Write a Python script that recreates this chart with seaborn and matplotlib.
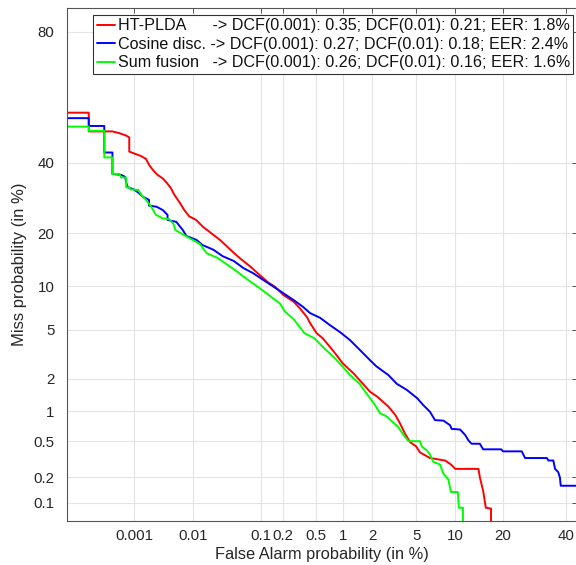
import pandas as pd
import seaborn as sns
import matplotlib.pyplot as plt
from statistics import NormalDist

# DET curve points, both axes in percent
plda_fa = [1e-5, 1.4e-4, 1.4e-4, 4.0e-4, 5.4e-4, 7.2e-4, 8.2e-4, 8.2e-4, 1.0e-3, 1.35e-3,
           1.64e-3, 1.85e-3, 2.15e-3, 2.6e-3, 3.2e-3, 3.8e-3, 4.4e-3, 5.0e-3, 6.0e-3, 7.3e-3,
           8.8e-3, 0.0113, 0.0144, 0.0168, 0.0264, 0.042, 0.0517, 0.072, 0.098, 0.125,
           0.156, 0.2, 0.27, 0.323, 0.39, 0.426, 0.51, 0.6, 0.8, 1.0,
           1.3, 1.6, 1.9, 2.23, 2.85, 3.3, 3.63, 4.01, 4.43, 5.0,
           5.37, 6.46, 8.42, 9.3, 10.0, 14.3, 14.6, 15.3, 15.9, 17.1, 17.1]
plda_miss = [56.6, 56.6, 50.4, 50.4, 49.8, 49.0, 48.4, 43.7, 43.1, 42.2,
             41.3, 39.4, 37.8, 36.2, 35.1, 33.6, 32.1, 30.2, 28.2, 25.9,
             24.2, 23.3, 21.6, 20.8, 18.5, 15.8, 14.7, 13.2, 11.7, 10.6,
             9.9, 8.77, 7.9, 7.1, 6.2, 5.6, 4.7, 4.3, 3.37, 2.7,
             2.22, 1.82, 1.53, 1.38, 1.11, 0.92, 0.76, 0.6, 0.49, 0.44,
             0.38, 0.33, 0.31, 0.28, 0.25, 0.25, 0.20, 0.14, 0.087, 0.085, 0.01]

cos_fa = [1e-5, 1.4e-4, 1.4e-4, 2.8e-4, 2.8e-4, 4.0e-4, 4.0e-4, 5.8e-4, 6.9e-4, 7.2e-4,
          7.7e-4, 9.8e-4, 1.2e-3, 1.45e-3, 1.85e-3, 1.85e-3, 2.5e-3, 3.2e-3, 3.85e-3, 3.85e-3,
          5.4e-3, 6.9e-3, 7.9e-3, 0.0115, 0.0142, 0.021, 0.029, 0.042, 0.058, 0.08,
          0.11, 0.15, 0.2, 0.27, 0.35, 0.426, 0.56, 0.72, 0.93, 1.19,
          1.51, 1.9, 2.2, 2.85, 3.4, 4.15, 5.1, 5.7, 6.46, 7.07,
          8.2, 9.16, 9.4, 10.8, 11.7, 12.3, 12.9, 14.6, 15.3, 19.6,
          20.1, 25.3, 26.3, 33.3, 33.8, 35.5, 36.1, 37.2, 37.8, 38.1, 60]
cos_miss = [54.8, 54.8, 52.2, 52.2, 43.4, 43.4, 36.5, 36.2, 35.6, 33.8,
            32.4, 31.8, 30.8, 29.6, 28.7, 27.1, 26.8, 25.9, 24.6, 23.3,
            22.8, 20.8, 19.4, 18.5, 17.4, 16.4, 15.1, 14.2, 12.9, 12.0,
            10.9, 9.9, 9.0, 8.1, 7.3, 6.6, 6.1, 5.41, 4.8, 4.17,
            3.48, 2.88, 2.55, 2.15, 1.8, 1.59, 1.33, 1.15, 0.99, 0.82,
            0.81, 0.73, 0.67, 0.66, 0.58, 0.51, 0.47, 0.47, 0.41, 0.41,
            0.39, 0.39, 0.33, 0.33, 0.31, 0.31, 0.25, 0.23, 0.20, 0.16, 0.16]

sum_fa = [1e-5, 1.4e-4, 1.4e-4, 2.8e-4, 2.8e-4, 4.0e-4, 4.0e-4, 5.4e-4, 5.8e-4, 7.2e-4,
          7.2e-4, 8.2e-4, 8.6e-4, 1.2e-3, 1.35e-3, 1.64e-3, 2.0e-3, 2.45e-3, 3.2e-3, 4.1e-3,
          4.8e-3, 5.2e-3, 7.9e-3, 0.013, 0.0165, 0.024, 0.034, 0.047, 0.066, 0.092,
          0.128, 0.18, 0.21, 0.27, 0.295, 0.366, 0.48, 0.62, 0.82, 1.0,
          1.19, 1.5, 1.75, 2.08, 2.38, 2.75, 3.22, 3.5, 3.9, 4.3,
          5.37, 5.55, 6.1, 6.46, 6.85, 7.72, 8.2, 8.9, 9.3, 10.4,
          10.6, 11.3, 11.3]
sum_miss = [52.0, 52.0, 50.6, 50.6, 41.8, 41.8, 36.5, 36.5, 35.4, 35.4,
            32.4, 32.4, 31.8, 31.6, 30.2, 28.7, 26.9, 24.6, 23.7, 23.5,
            22.4, 20.8, 19.3, 17.6, 15.7, 14.8, 13.5, 12.3, 11.0, 9.9,
            8.77, 7.7, 6.75, 5.96, 5.57, 4.7, 4.3, 3.6, 2.98, 2.53,
            2.15, 1.8, 1.48, 1.19, 0.96, 0.89, 0.76, 0.7, 0.58, 0.5,
            0.5, 0.44, 0.40, 0.36, 0.30, 0.28, 0.22, 0.19, 0.135, 0.135,
            0.087, 0.087, 0.01]

systems = ["HT-PLDA", "Cosine disc.", "Sum fusion"]
legend_labels = [
    "HT-PLDA      -> DCF(0.001): 0.35; DCF(0.01): 0.21; EER: 1.8%",
    "Cosine disc. -> DCF(0.001): 0.27; DCF(0.01): 0.18; EER: 2.4%",
    "Sum fusion   -> DCF(0.001): 0.26; DCF(0.01): 0.16; EER: 1.6%",
]
colors = ["#ff0000", "#0000ff", "#00ff00"]

x_ticks = [0.001, 0.01, 0.1, 0.2, 0.5, 1, 2, 5, 10, 20, 40]
y_ticks = [0.1, 0.2, 0.5, 1, 2, 5, 10, 20, 40, 80]

nd = NormalDist()


def probit(pct):
    return nd.inv_cdf(pct / 100.0)


frames = []
for name, fa, miss in zip(systems, [plda_fa, cos_fa, sum_fa], [plda_miss, cos_miss, sum_miss]):
    df = pd.DataFrame({"fa": fa, "miss": miss})
    df["system"] = name
    frames.append(df)
det = pd.concat(frames, ignore_index=True)
det["x"] = det["fa"].apply(probit)
det["y"] = det["miss"].apply(probit)

sns.set_style("white")
plt.rcParams["font.family"] = ["Liberation Sans", "DejaVu Sans"]

fig = plt.figure(figsize=(5.76, 5.65), dpi=100)
ax = fig.add_axes([67 / 576, 1 - 521 / 565, 510 / 576, 513 / 565])

for name, col, lab in zip(systems, colors, legend_labels):
    sub = det[det["system"] == name]
    sns.lineplot(data=sub, x="x", y="y", sort=False, estimator=None, color=col,
                 linewidth=1.4, label=lab, ax=ax)

ax.set_xlim(-4.887, -0.152)
ax.set_ylim(-3.242, 1.040)
ax.set_xticks([probit(v) for v in x_ticks])
ax.set_xticklabels([f"{v:g}" for v in x_ticks])
ax.set_yticks([probit(v) for v in y_ticks])
ax.set_yticklabels([f"{v:g}" for v in y_ticks])

ax.grid(True, color="#e4e4e4", linewidth=0.8)
ax.set_axisbelow(True)
for s in ax.spines.values():
    s.set_color("#555555")
    s.set_linewidth(0.8)
ax.tick_params(direction="in", length=3.5, width=0.7, color="#555555",
               top=True, right=True, labelsize=10.8, labelcolor="#262626")
ax.tick_params(axis="y", pad=9)
ax.tick_params(axis="x", pad=6)

ax.set_xlabel("False Alarm probability (in %)", fontsize=11.8, color="#262626", labelpad=3)
ax.set_ylabel("Miss probability (in %)", fontsize=12, color="#262626", labelpad=5)

leg = ax.legend(loc="upper right", bbox_to_anchor=(573 / 576, 1 - 15 / 565),
                bbox_transform=fig.transFigure, fontsize=11.6, frameon=True,
                fancybox=False, framealpha=1, edgecolor="#333333",
                handlelength=1.15, handletextpad=0.15, borderpad=0.2,
                labelspacing=0.22, borderaxespad=0)
leg.get_frame().set_linewidth(0.8)
for t in leg.get_texts():
    t.set_color("#111111")

plt.savefig("out.png", dpi=100)
